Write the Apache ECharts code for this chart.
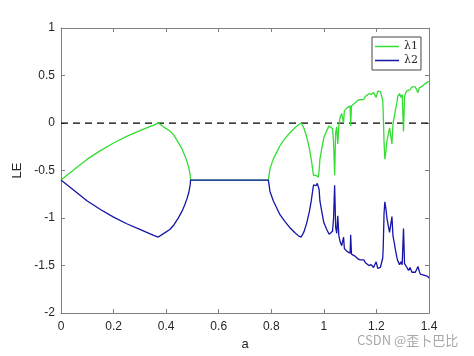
<!DOCTYPE html>
<html>
<head>
<meta charset="utf-8">
<script src="https://cdn.jsdelivr.net/npm/echarts@6/dist/echarts.min.js"></script>
<style>
html,body{margin:0;padding:0;background:#fff;overflow:hidden;}
#chart{width:474px;height:356px;}
</style>
</head>
<body>
<div id="chart"></div>
<script>
// Parameter a (x axis)
const aValues = [
  0, 0.05, 0.10, 0.15, 0.20, 0.25, 0.30, 0.35, 0.370,
  0.39, 0.414, 0.43, 0.446, 0.46, 0.471, 0.48, 0.487, 0.491, 0.493,
  0.60, 0.70, 0.789,
  0.795, 0.808, 0.833, 0.85, 0.872, 0.89, 0.905, 0.914,
  0.925, 0.935, 0.945, 0.952, 0.958, 0.961, 0.965, 0.970, 0.975, 0.979,
  0.982, 0.985, 0.992, 1.000, 1.011, 1.020, 1.027, 1.033, 1.037, 1.041,
  1.045, 1.049, 1.053, 1.057, 1.062, 1.068, 1.072, 1.075, 1.078, 1.082,
  1.088, 1.095, 1.100, 1.102, 1.105, 1.112, 1.118, 1.124, 1.130, 1.138,
  1.145, 1.152, 1.158, 1.164, 1.172, 1.180, 1.189, 1.195, 1.199, 1.205,
  1.210, 1.215, 1.220, 1.224, 1.226, 1.229, 1.232, 1.236, 1.240, 1.245,
  1.250, 1.255, 1.259, 1.263, 1.268, 1.272, 1.278, 1.281, 1.288, 1.293,
  1.298, 1.303, 1.307, 1.310, 1.316, 1.322, 1.328, 1.335, 1.341, 1.348,
  1.354, 1.358, 1.363, 1.367, 1.373, 1.380, 1.386, 1.393, 1.400
];
// Largest Lyapunov exponent
const lambda1 = [
  -0.60, -0.49, -0.38, -0.29, -0.21, -0.14, -0.08, -0.025, 0.00,
  -0.04, -0.083, -0.13, -0.204, -0.27, -0.343, -0.41, -0.48, -0.54, -0.60,
  -0.60, -0.60, -0.60,
  -0.48, -0.377, -0.239, -0.17, -0.10, -0.05, -0.015, 0.00,
  -0.06, -0.15, -0.27, -0.38, -0.50, -0.55, -0.56, -0.55, -0.57, -0.57,
  -0.50, -0.38, -0.27, -0.15, -0.08, -0.03, -0.01, -0.06, -0.20, -0.55,
  -0.10, -0.04, -0.22, -0.02, 0.06, 0.10, 0.12, 0.00, 0.13, 0.14,
  0.16, 0.17, 0.18, -0.03, 0.18, 0.20, 0.21, 0.22, 0.24, 0.245,
  0.26, 0.25, 0.28, 0.29, 0.31, 0.30, 0.32, 0.33, 0.27, 0.335,
  0.34, 0.33, 0.33, 0.24, 0.10, -0.20, -0.38, -0.30, -0.19, -0.12,
  -0.05, -0.03, -0.22, -0.01, 0.07, 0.13, 0.22, 0.28, 0.31, 0.27,
  0.30, -0.09, 0.28, 0.31, 0.34, 0.36, 0.35, 0.38, 0.385, 0.38,
  0.37, 0.32, 0.37, 0.39, 0.385, 0.40, 0.415, 0.42, 0.44
];
// Second Lyapunov exponent
const lambda2 = [
  -0.60, -0.71, -0.82, -0.91, -0.99, -1.06, -1.12, -1.18, -1.20,
  -1.164, -1.12, -1.07, -1.00, -0.93, -0.86, -0.79, -0.72, -0.66, -0.60,
  -0.60, -0.60, -0.60,
  -0.72, -0.82, -0.965, -1.03, -1.105, -1.155, -1.19, -1.20,
  -1.14, -1.05, -0.93, -0.82, -0.70, -0.65, -0.64, -0.66, -0.635, -0.64,
  -0.70, -0.82, -0.93, -1.05, -1.12, -1.17, -1.19, -1.14, -1.00, -0.655,
  -1.10, -1.16, -0.975, -1.185, -1.25, -1.29, -1.31, -1.20, -1.32, -1.33,
  -1.35, -1.36, -1.37, -1.175, -1.38, -1.39, -1.40, -1.41, -1.43, -1.44,
  -1.45, -1.44, -1.47, -1.49, -1.50, -1.49, -1.52, -1.53, -1.46, -1.53,
  -1.54, -1.52, -1.52, -1.42, -1.30, -0.95, -0.83, -0.90, -1.00, -1.08,
  -1.15, -1.17, -0.985, -1.19, -1.26, -1.33, -1.417, -1.45, -1.49, -1.46,
  -1.49, -1.11, -1.48, -1.50, -1.52, -1.55, -1.52, -1.57, -1.58, -1.57,
  -1.55, -1.51, -1.56, -1.59, -1.57, -1.60, -1.61, -1.61, -1.63
];
const xTicks = [0, 0.2, 0.4, 0.6, 0.8, 1, 1.2, 1.4];
const yTicks = [-2, -1.5, -1, -0.5, 0, 0.5, 1];
const zeroLine = [0, 0];

const d1 = aValues.map((a, i) => [a, lambda1[i]]);
const d2 = aValues.map((a, i) => [a, lambda2[i]]);
const dz = [[xTicks[0], zeroLine[0]], [xTicks[xTicks.length - 1], zeroLine[1]]];

const axisColor = '#808080';
const labelStyle = {color: '#262626', fontSize: 12, fontFamily: 'Liberation Sans, Arial, sans-serif'};
function xAx(pos, show) {
  return {
    type: 'value', position: pos, min: xTicks[0], max: xTicks[xTicks.length - 1], interval: 0.2,
    axisLine: {show: true, onZero: false, lineStyle: {color: axisColor, width: 1}},
    axisTick: {show: true, inside: true, length: 4, lineStyle: {color: axisColor}},
    axisLabel: show ? Object.assign({margin: 8}, labelStyle) : {show: false},
    splitLine: {show: false},
    name: show ? 'a' : '', nameLocation: 'middle', nameGap: 24,
    nameTextStyle: {color: '#262626', fontSize: 13, fontFamily: 'Liberation Sans, Arial, sans-serif'}
  };
}
function yAx(pos, show) {
  return {
    type: 'value', position: pos, min: yTicks[0], max: yTicks[yTicks.length - 1], interval: 0.5,
    axisLine: {show: true, onZero: false, lineStyle: {color: axisColor, width: 1}},
    axisTick: {show: true, inside: true, length: 4, lineStyle: {color: axisColor}},
    axisLabel: show ? Object.assign({margin: 6}, labelStyle) : {show: false},
    splitLine: {show: false},
    name: show ? 'LE' : '', nameLocation: 'middle', nameGap: 27,
    nameTextStyle: {color: '#262626', fontSize: 13, fontFamily: 'Liberation Sans, Arial, sans-serif'}
  };
}

const chart = echarts.init(document.getElementById('chart'), null, {renderer: 'canvas', width: 474, height: 356});
chart.setOption({
  animation: false,
  backgroundColor: '#ffffff',
  grid: {left: 61, top: 28, width: 368, height: 288},
  xAxis: [xAx('bottom', true), xAx('top', false)],
  yAxis: [yAx('left', true), yAx('right', false)],
  legend: {
    orient: 'vertical', left: 372, top: 37,
    data: ['λ1', 'λ2'],
    icon: 'rect', itemWidth: 24, itemHeight: 1.5, itemGap: 1,
    padding: [3, 3, 3, 3],
    backgroundColor: '#fff', borderColor: '#444', borderWidth: 1, borderRadius: 0,
    textStyle: {color: '#262626', fontSize: 11, lineHeight: 13, fontFamily: 'DejaVu Serif, serif'}
  },
  graphic: [{
    type: 'text', left: 357, top: 334,
    style: {text: 'CSDN @歪卜巴比', fill: '#a8a8a8', fontSize: 13, fontFamily: 'Noto Sans CJK SC, sans-serif'}
  }],
  series: [
    {name: 'zero', type: 'line', data: dz, symbol: 'none', silent: true,
     lineStyle: {color: '#000', width: 1.3, type: [7, 5]}},
    {name: 'λ1', type: 'line', data: d1, symbol: 'none',
     lineStyle: {color: '#33dd33', width: 1.3}, itemStyle: {color: '#33dd33'}},
    {name: 'λ2', type: 'line', data: d2, symbol: 'none',
     lineStyle: {color: '#1515a8', width: 1.3}, itemStyle: {color: '#1515a8'}}
  ]
});
</script>
</body>
</html>
